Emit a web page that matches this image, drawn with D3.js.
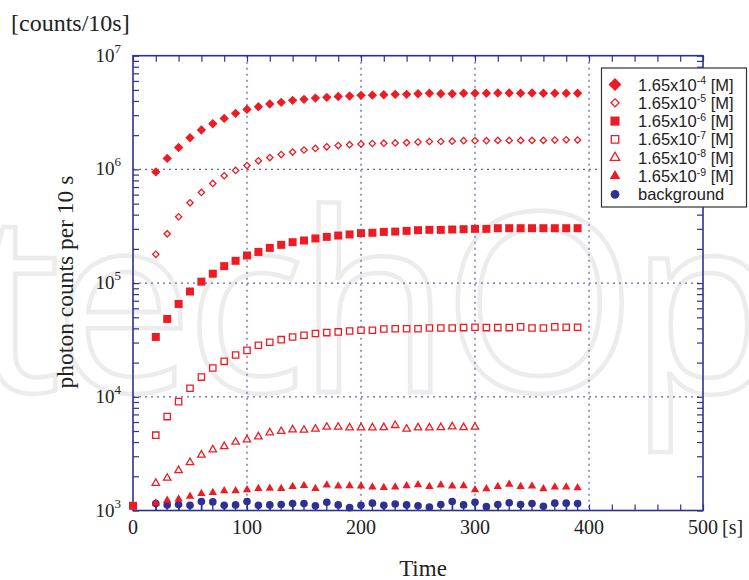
<!DOCTYPE html>
<html><head><meta charset="utf-8">
<script src="https://cdn.jsdelivr.net/npm/d3@7"></script>
<style>body{margin:0;background:#fff}svg{display:block}</style>
</head><body>
<svg id="c" width="749" height="580"></svg>
<script>
// ---- data ----
const times = [20,30,40,50,60,70,80,90,100,110,120,130,140,150,160,170,180,190,200,210,220,230,240,250,260,270,280,290,300,310,320,330,340,350,360,370,380,390];
const timesSq = [0].concat(times);
const timesTri = [20,30,40,50,60,70,80,90,100,110,120,130,140,150,160,170,180,190,200,210,220,230,240,250,260,270,280,290,300];

const c4 = [9.5e5,1.25e6,1.56e6,1.90e6,2.22e6,2.52e6,2.81e6,3.11e6,3.37e6,3.56e6,3.76e6,3.89e6,4.05e6,4.13e6,4.24e6,4.30e6,4.38e6,4.42e6,4.48e6,4.50e6,4.54e6,4.57e6,4.57e6,4.63e6,4.67e6,4.63e6,4.63e6,4.67e6,4.67e6,4.67e6,4.70e6,4.70e6,4.67e6,4.70e6,4.67e6,4.67e6,4.67e6,4.67e6];
const c5 = [1.79e5,2.71e5,3.83e5,5.08e5,6.27e5,7.53e5,8.79e5,9.80e5,1.08e6,1.19e6,1.27e6,1.35e6,1.42e6,1.48e6,1.53e6,1.58e6,1.62e6,1.65e6,1.67e6,1.69e6,1.70e6,1.71e6,1.72e6,1.74e6,1.76e6,1.76e6,1.77e6,1.79e6,1.79e6,1.79e6,1.80e6,1.80e6,1.80e6,1.80e6,1.80e6,1.81e6,1.82e6,1.81e6];
const c6 = [1.1e3,3.36e4,4.84e4,6.56e4,8.44e4,1.03e5,1.21e5,1.41e5,1.57e5,1.75e5,1.88e5,2.04e5,2.17e5,2.29e5,2.37e5,2.47e5,2.55e5,2.62e5,2.68e5,2.75e5,2.77e5,2.82e5,2.84e5,2.88e5,2.92e5,2.94e5,2.94e5,2.96e5,2.98e5,3.00e5,3.00e5,3.04e5,3.04e5,3.04e5,3.04e5,3.04e5,3.04e5,3.04e5,3.04e5];
const c7 = [4.6e3,6.7e3,9.07e3,1.19e4,1.49e4,1.79e4,2.05e4,2.33e4,2.56e4,2.84e4,3.02e4,3.18e4,3.36e4,3.48e4,3.60e4,3.67e4,3.72e4,3.79e4,3.85e4,3.85e4,3.95e4,3.97e4,3.97e4,3.97e4,4.03e4,4.03e4,4.03e4,4.06e4,4.09e4,4.06e4,4.06e4,4.06e4,4.12e4,4.03e4,4.03e4,4.12e4,4.09e4,4.09e4];
const c8 = [1.74e3,1.93e3,2.25e3,2.65e3,3.08e3,3.43e3,3.66e3,4.0e3,4.2e3,4.46e3,4.84e3,4.97e3,5.14e3,5.1e3,5.21e3,5.42e3,5.42e3,5.35e3,5.35e3,5.35e3,5.38e3,5.61e3,5.21e3,5.35e3,5.35e3,5.38e3,5.46e3,5.38e3,5.42e3];
const c9 = [1.16e3,1.23e3,1.26e3,1.33e3,1.41e3,1.44e3,1.49e3,1.49e3,1.52e3,1.56e3,1.57e3,1.56e3,1.62e3,1.66e3,1.56e3,1.67e3,1.64e3,1.65e3,1.64e3,1.61e3,1.59e3,1.61e3,1.65e3,1.68e3,1.62e3,1.67e3,1.64e3,1.65e3,1.52e3,1.55e3,1.62e3,1.70e3,1.62e3,1.64e3,1.55e3,1.61e3,1.61e3,1.58e3];
const bg = [1.15e3,1.12e3,1.13e3,1.11e3,1.20e3,1.19e3,1.11e3,1.12e3,1.20e3,1.11e3,1.12e3,1.13e3,1.15e3,1.15e3,1.10e3,1.18e3,1.12e3,1.06e3,1.11e3,1.16e3,1.11e3,1.14e3,1.12e3,1.10e3,1.07e3,1.13e3,1.20e3,1.12e3,1.18e3,1.08e3,1.13e3,1.17e3,1.13e3,1.15e3,1.09e3,1.16e3,1.16e3,1.15e3];
const bgErrFactor = 1.2;

const legendExps = ["-4","-5","-6","-7","-8","-9"];
const legendBase = "1.65x10";
const legendUnit = " [M]";
const legendBg = "background";

const xTicks = [0,100,200,300,400,500];
const xMinor = [20,40,60,80,120,140,160,180,220,240,260,280,320,340,360,380,420,440,460,480];
const yDecades = [3,4,5,6,7];
const yUnitLabel = "[counts/10s]";
const xUnitLabel = "[s]";
const xTitle = "Time";
const yTitle = "photon counts per 10 s";
const watermark = "techOpen";

// ---- layout ----
const RED = "#ED1C24", NAVY = "#2E3192", GRID = "#6366b0";
const L = 133, R = 703, T = 55.7, B = 510.5;
const svg = d3.select("#c");
const x = d3.scaleLinear().domain([0,500]).range([L,R]);
const y = d3.scaleLog().domain([1e3,1e7]).range([B,T]);
const serif = "'Liberation Serif','Times New Roman',serif";
const sans = "'Liberation Sans',Arial,sans-serif";

// watermark
svg.append("text").text(watermark)
  .attr("x", -28).attr("y", 392)
  .attr("font-family", "'Open Sans','DejaVu Sans',sans-serif")
  .attr("font-size", 250).attr("fill", "none")
  .attr("stroke", "#ececec").attr("stroke-width", 4.5)
  .attr("letter-spacing", -8);

// grid
const yMajor = yDecades.map(d => Math.pow(10,d));
svg.append("g").selectAll("line").data(yMajor.slice(1,-1)).join("line")
  .attr("x1", L).attr("x2", R).attr("y1", d=>y(d)).attr("y2", d=>y(d))
  .attr("stroke", GRID).attr("stroke-width", 1.3).attr("stroke-dasharray", "2,4");
svg.append("g").selectAll("line").data(xTicks.slice(1,-1)).join("line")
  .attr("y1", T).attr("y2", B).attr("x1", d=>x(d)).attr("x2", d=>x(d))
  .attr("stroke", GRID).attr("stroke-width", 1.3).attr("stroke-dasharray", "2,4");

// axes ticks (inward)
const yMinor = [];
yDecades.slice(0,-1).forEach(k => { for (let m=2;m<=9;m++) yMinor.push(m*Math.pow(10,k)); });
function styleAxis(g){ g.select(".domain").remove(); g.selectAll("line").attr("stroke", NAVY).attr("stroke-width",1.2); g.selectAll("text").remove(); }
svg.append("g").attr("transform",`translate(${L},0)`).call(d3.axisLeft(y).tickValues(yMinor.concat(yMajor)).tickSize(-6).tickFormat("")).call(styleAxis);
svg.append("g").attr("transform",`translate(${R},0)`).call(d3.axisRight(y).tickValues(yMinor.concat(yMajor)).tickSize(-6).tickFormat("")).call(styleAxis);
svg.append("g").attr("transform",`translate(0,${T})`).call(d3.axisTop(x).tickValues(xMinor.concat(xTicks)).tickSize(-6).tickFormat("")).call(styleAxis);
svg.append("g").attr("transform",`translate(0,${B})`).call(d3.axisBottom(x).tickValues(xMinor.concat(xTicks)).tickSize(-6).tickFormat("")).call(styleAxis);

// frame
svg.append("rect").attr("x",L).attr("y",T).attr("width",R-L).attr("height",B-T)
  .attr("fill","none").attr("stroke",NAVY).attr("stroke-width",1.6);

// y tick labels
const yl = svg.append("g").attr("font-family", serif).attr("fill","#222");
yDecades.forEach(k => {
  const t = yl.append("text").attr("x", 121).attr("y", y(Math.pow(10,k)) + 6).attr("text-anchor","end");
  t.append("tspan").attr("font-size", 19).text("10");
  t.append("tspan").attr("font-size", 13).attr("dy", -9).text(String(k));
});
// x tick labels
svg.append("g").selectAll("text").data(xTicks).join("text")
  .attr("x", d=>x(d)).attr("y", 534).attr("text-anchor","middle")
  .attr("font-family", serif).attr("font-size", 20).attr("fill","#222").text(d=>d);
svg.append("text").attr("x", x(500)+19).attr("y", 534).attr("font-family", serif).attr("font-size", 20).attr("fill","#222").text(xUnitLabel);
svg.append("text").attr("x", 423).attr("y", 576).attr("text-anchor","middle").attr("font-family", serif).attr("font-size", 23).attr("fill","#222").text(xTitle);
svg.append("text").attr("x", 11).attr("y", 31).attr("font-family", serif).attr("font-size", 24).attr("fill","#222").text(yUnitLabel);
svg.append("text").attr("transform","translate(73,282) rotate(-90)").attr("text-anchor","middle")
  .attr("font-family", serif).attr("font-size", 23.5).attr("fill","#222").text(yTitle);

// symbols
const sym = {
  fdia: {type: d3.symbolSquare, size: 44, fill: RED, stroke: "none", rot: 45},
  odia: {type: d3.symbolSquare, size: 20, fill: "#fff", stroke: RED, rot: 45},
  fsq:  {type: d3.symbolSquare, size: 64, fill: RED, stroke: "none", rot: 0},
  osq:  {type: d3.symbolSquare, size: 40, fill: "#fff", stroke: RED, rot: 0},
  otri: {type: d3.symbolTriangle, size: 24, fill: "#fff", stroke: RED, rot: 0},
  ftri: {type: d3.symbolTriangle, size: 30, fill: RED, stroke: "none", rot: 0},
  circ: {type: d3.symbolCircle, size: 46, fill: NAVY, stroke: "none", rot: 0}
};
function draw(g, xs, ys, s){
  g.selectAll("path").data(xs.map((t,i)=>[t,ys[i]])).join("path")
    .attr("d", d3.symbol(s.type, s.size)())
    .attr("transform", d=>`translate(${x(d[0])},${y(d[1])}) rotate(${s.rot})`)
    .attr("fill", s.fill).attr("stroke", s.stroke).attr("stroke-width", 1.3);
}
const plot = svg.append("g");
// background error bars
plot.append("g").selectAll("line").data(times.map((t,i)=>[t,bg[i]])).join("line")
  .attr("x1", d=>x(d[0])).attr("x2", d=>x(d[0]))
  .attr("y1", d=>y(d[1])).attr("y2", d=>y(Math.max(1e3, d[1]/bgErrFactor)))
  .attr("stroke", NAVY).attr("stroke-width", 1.3);
draw(plot.append("g"), times, bg, sym.circ);
draw(plot.append("g"), times, c9, sym.ftri);
draw(plot.append("g"), timesTri, c8, sym.otri);
draw(plot.append("g"), times, c7, sym.osq);
draw(plot.append("g"), timesSq, c6, sym.fsq);
draw(plot.append("g"), times, c5, sym.odia);
draw(plot.append("g"), times, c4, sym.fdia);

// legend
const lg = svg.append("g");
lg.append("rect").attr("x", 601.5).attr("y", 68).attr("width", 145).attr("height", 139)
  .attr("fill","#fff").attr("stroke","#333").attr("stroke-width",1.2);
const legSyms = [sym.fdia, sym.odia, sym.fsq, sym.osq, sym.otri, sym.ftri, sym.circ];
const legSizes = [1.9, 1.6, 1.3, 1.4, 1.6, 1.6, 1.3];
legSyms.forEach((s,i) => {
  const cy = 84.5 + i*18.3;
  lg.append("path").attr("d", d3.symbol(s.type, s.size*legSizes[i])())
    .attr("transform", `translate(615,${cy}) rotate(${s.rot})`)
    .attr("fill", s.fill).attr("stroke", s.stroke).attr("stroke-width",1.3);
  const t = lg.append("text").attr("x", 638).attr("y", cy+6).attr("font-family", sans).attr("font-size", 16.5).attr("fill","#222");
  if (i < legendExps.length) {
    t.append("tspan").text(legendBase);
    t.append("tspan").attr("font-size", 10.5).attr("dy", -6.5).text(legendExps[i]);
    t.append("tspan").attr("dy", 6.5).text(legendUnit);
  } else t.text(legendBg);
});
</script>
</body></html>
